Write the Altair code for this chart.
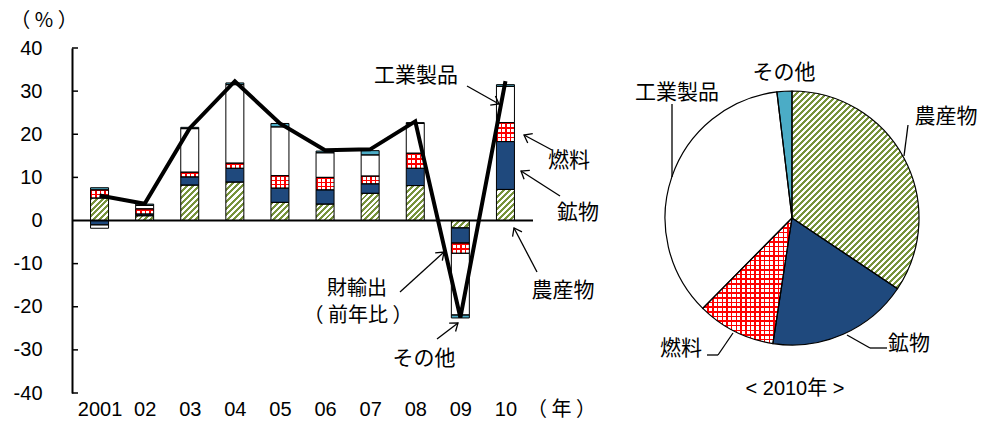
import math
import altair as alt
import pandas as pd

# ---------------- data ----------------
years = ["2001", "02", "03", "04", "05", "06", "07", "08", "09", "10"]
categories = ["農産物", "鉱物", "燃料", "工業製品", "その他"]
agri = [5.2, 1.1, 8.2, 8.9, 4.2, 3.8, 6.3, 8.1, -1.7, 7.2]
mineral = [-1.0, 0.4, 1.9, 3.2, 3.3, 3.3, 2.2, 4.0, -3.5, 11.1]
fuel = [1.9, 1.2, 1.1, 1.2, 2.9, 2.9, 1.8, 3.5, -2.4, 4.4]
manuf = [-0.8, 0.8, 10.1, 18.2, 11.3, 5.7, 4.9, 6.9, -14.3, 8.4]
other = [0.5, 0.3, 0.3, 0.4, 0.8, 0.4, 1.0, 0.2, -0.7, 0.4]
total = [5.8, 3.9, 21.4, 32.3, 22.5, 16.3, 16.5, 23.0, -22.5, 32.3]
share_2010 = [34.4, 18.0, 10.0, 35.7, 1.9]
y_ticks = [-40, -30, -20, -10, 0, 10, 20, 30, 40]

colors = ["#a9c47a", "#1f497d", "#f77b7b", "#ffffff", "#4bacc6"]
JP = "Noto Sans CJK JP"
NUM = "Liberation Sans"
MIX = "Liberation Sans, Noto Sans CJK JP"

series = [agri, mineral, fuel, manuf, other]
rows = []
for ci, (cat, vals) in enumerate(zip(categories, series)):
    for i, v in enumerate(vals):
        rows.append({"idx": i, "cat": cat, "ord": ci, "value": v})
bars_df = pd.DataFrame(rows)
total_df = pd.DataFrame({"idx": list(range(len(years))), "total": total})
pie_df = pd.DataFrame({"cat": categories, "ord": list(range(5)), "share": share_2010})
ticks_df = pd.DataFrame({"t": [t for t in y_ticks if t != 0]})
dummy = pd.DataFrame({"a": [0]})

# ---------------- layout ----------------
W, H = 461, 345
OX, OY = 72, 48
PCX, PCY, PR = 792, 218, 127
BAR_W = 18
PX_PER_UNIT = H / 80.0

xs = alt.Scale(domain=[-0.5, len(years) - 0.5], nice=False, zero=False)
ys = alt.Scale(domain=[-40, 40], nice=False, zero=False)
color = alt.Color("cat:N", scale=alt.Scale(domain=categories, range=colors), legend=None)

label_expr = "[" + ",".join(f"'{y}'" for y in years) + "][datum.value]"
xax = alt.Axis(values=list(range(len(years))), labelExpr=label_expr, title=None,
               domain=False, ticks=False, grid=False, labelFont=NUM, labelFontSize=20,
               labelColor="black", labelPadding=6, labelOverlap=False)
yax = alt.Axis(values=y_ticks, title=None, grid=False, domainColor="black", domainWidth=2,
               ticks=False, labelFont=NUM, labelFontSize=20, labelColor="black",
               labelPadding=30, labelOverlap=False,
               labelExpr="datum.value < 0 ? '-' + abs(datum.value) : '' + datum.value")


# ---- pattern-like gradients ----
def stripes(c_on, c_off, n, frac, x2, y2):
    n = max(1, int(n))
    stops = []
    for k in range(n):
        a = k / n
        b = (k + frac) / n
        stops += [{"offset": a, "color": c_on}, {"offset": b, "color": c_on},
                  {"offset": b, "color": c_off}, {"offset": (k + 1) / n, "color": c_off}]
    return {"gradient": "linear", "x1": 0, "y1": 0, "x2": x2, "y2": y2, "stops": stops}


def hatch_for_box(w, h, period=4.2, c_on="#77933c"):
    # 45-degree "/" hatch inside a w x h bounding box
    k = (w + h) / (w * w + h * h)
    n = round((w + h) / (period * math.sqrt(2)))
    return stripes(c_on, "#ffffff", n, 0.5, w * k, h * k)


CLEAR = "rgba(255,255,255,0)"


def stacked(sel):
    return alt.Chart(bars_df).transform_stack(
        stack="value", groupby=["idx"], as_=["v0", "v1"], sort=[alt.SortField("ord")]
    ).transform_filter(sel)


def bar_enc():
    return dict(x=alt.X("idx:Q", scale=xs, axis=xax),
                y=alt.Y("v0:Q", scale=ys, axis=yax), y2="v1:Q")


bars = alt.Chart(bars_df).mark_bar(size=BAR_W, strokeWidth=0).encode(
    x=alt.X("idx:Q", scale=xs, axis=xax),
    y=alt.Y("value:Q", scale=ys, stack="zero", axis=yax),
    color=color,
    order=alt.Order("ord:Q"),
)

pattern_layers = []
# hatched agricultural bars (one gradient per bar so the hatch density is uniform)
for i, v in enumerate(agri):
    h = max(abs(v) * PX_PER_UNIT, 1.0)
    pattern_layers.append(
        stacked((alt.datum.idx == i) & (alt.datum.cat == "農産物"))
        .mark_bar(size=BAR_W, strokeWidth=0, fill=hatch_for_box(BAR_W, h)).encode(**bar_enc()))
# red grid fuel bars
pattern_layers.append(
    stacked(alt.datum.cat == "燃料").mark_bar(size=BAR_W, strokeWidth=0, fill="#ffffff").encode(**bar_enc()))
pattern_layers.append(
    stacked(alt.datum.cat == "燃料").mark_bar(
        size=BAR_W, strokeWidth=0, fill=stripes("#ff0000", CLEAR, 4, 0.33, 1, 0)).encode(**bar_enc()))
for i, v in enumerate(fuel):
    h = abs(v) * PX_PER_UNIT
    pattern_layers.append(
        stacked((alt.datum.idx == i) & (alt.datum.cat == "燃料")).mark_bar(
            size=BAR_W, strokeWidth=0,
            fill=stripes("#ff0000", CLEAR, max(1, round(h / 4.7)), 0.33, 0, 1)).encode(**bar_enc()))

outline = alt.Chart(bars_df).mark_bar(size=BAR_W, stroke="black", strokeWidth=1, fillOpacity=0).encode(
    x=alt.X("idx:Q", scale=xs, axis=xax),
    y=alt.Y("value:Q", scale=ys, stack="zero", axis=yax),
    order=alt.Order("ord:Q"),
)

line = alt.Chart(total_df).mark_line(color="black", strokeWidth=4).encode(
    x=alt.X("idx:Q", scale=xs, axis=xax),
    y=alt.Y("total:Q", scale=ys, axis=yax),
)

zero = alt.Chart(dummy).mark_rule(color="black", strokeWidth=2).encode(
    y=alt.datum(0), x=alt.value(0), x2=alt.value(W)
)

inticks = alt.Chart(ticks_df).mark_rule(color="black", strokeWidth=1.5).encode(
    y=alt.Y("t:Q", scale=ys, axis=yax), x=alt.value(0), x2=alt.value(6)
)


# ---- pie ----
def pie_layer(fill=None, only=None):
    kw = dict(radius=PR, strokeWidth=0)
    if fill is not None:
        kw["fill"] = fill
    enc = dict(
        theta=alt.Theta("share:Q", stack=True),
        order=alt.Order("ord:Q"),
        x=alt.value(PCX - OX),
        y=alt.value(PCY - OY),
    )
    if fill is None:
        enc["color"] = color
    if only is not None:
        enc["fillOpacity"] = alt.condition(alt.datum.cat == only, alt.value(1), alt.value(0))
    return alt.Chart(pie_df).mark_arc(**kw).encode(**enc)


pie_layers = [
    pie_layer(),
    pie_layer(fill=stripes("#77933c", "#ffffff", 56, 0.5, 0.772, 1.2), only="農産物"),
    pie_layer(fill="#ffffff", only="燃料"),
    pie_layer(fill=stripes("#ff0000", CLEAR, 27, 0.33, 0, 1), only="燃料"),
    pie_layer(fill=stripes("#ff0000", CLEAR, 19, 0.33, 1, 0), only="燃料"),
    alt.Chart(pie_df).mark_arc(radius=PR, stroke="black", strokeWidth=1.2, fillOpacity=0).encode(
        theta=alt.Theta("share:Q", stack=True), order=alt.Order("ord:Q"),
        x=alt.value(PCX - OX), y=alt.value(PCY - OY)),
]


# ---- annotations ----
def text(txt, ax, ay, size=21, align="center", font=JP):
    return alt.Chart(dummy).mark_text(text=txt, fontSize=size, font=font, align=align,
                                      baseline="middle", color="black").encode(
        x=alt.value(ax - OX), y=alt.value(ay - OY))


def seg(x1, y1, x2, y2):
    return alt.Chart(dummy).mark_rule(color="black", strokeWidth=1.3).encode(
        x=alt.value(x1 - OX), y=alt.value(y1 - OY), x2=alt.value(x2 - OX), y2=alt.value(y2 - OY))


def arrow(x1, y1, x2, y2):
    ang = math.degrees(math.atan2(y2 - y1, x2 - x1)) % 360
    head = alt.Chart(dummy).mark_point(shape="M -1 -0.75 L 0 0 L -1 0.75", size=200, angle=ang,
                                       filled=False, color="black", stroke="black",
                                       strokeWidth=1.3, opacity=1).encode(
        x=alt.value(x2 - OX), y=alt.value(y2 - OY))
    return [seg(x1, y1, x2, y2), head]


annots = [
    text("（ % ）", 44, 21, size=20),
    text("（ 年 ）", 527, 410, size=20, align="left"),
    text("工業製品", 416, 76),
    text("燃料", 569, 161),
    text("鉱物", 578, 213),
    text("農産物", 563, 291),
    text("財輸出", 357, 289, size=20),
    text("（ 前年比 ）", 358, 316, size=20),
    text("その他", 424, 359),
    text("その他", 784, 73),
    text("工業製品", 677, 93),
    text("農産物", 946, 117),
    text("燃料", 681, 349),
    text("鉱物", 909, 344),
    text("< 2010年 >", 795, 389, size=20, font=MIX),
    seg(672, 104, 672, 177),
    seg(908, 125, 904, 156),
    seg(847, 335, 870, 348), seg(870, 348, 887, 348),
    seg(733, 333, 718, 355), seg(718, 355, 707, 355),
]
annots += arrow(467, 86, 499, 104)
annots += arrow(552, 150, 524, 135)
annots += arrow(560, 196, 521, 171)
annots += arrow(537, 272, 514, 228)
annots += arrow(400, 292, 444, 252)
annots += arrow(437, 339, 458, 323)

chart = alt.layer(bars, *pattern_layers, outline, line, zero, inticks, *pie_layers, *annots).properties(
    width=W, height=H,
    padding={"left": OX, "top": OY, "right": 982 - OX - W, "bottom": 432 - OY - H},
    autosize=alt.AutoSizeParams(type="none"),
).configure_view(stroke=None)

chart.save("out.html", embed_options={"renderer": "svg", "actions": False})
